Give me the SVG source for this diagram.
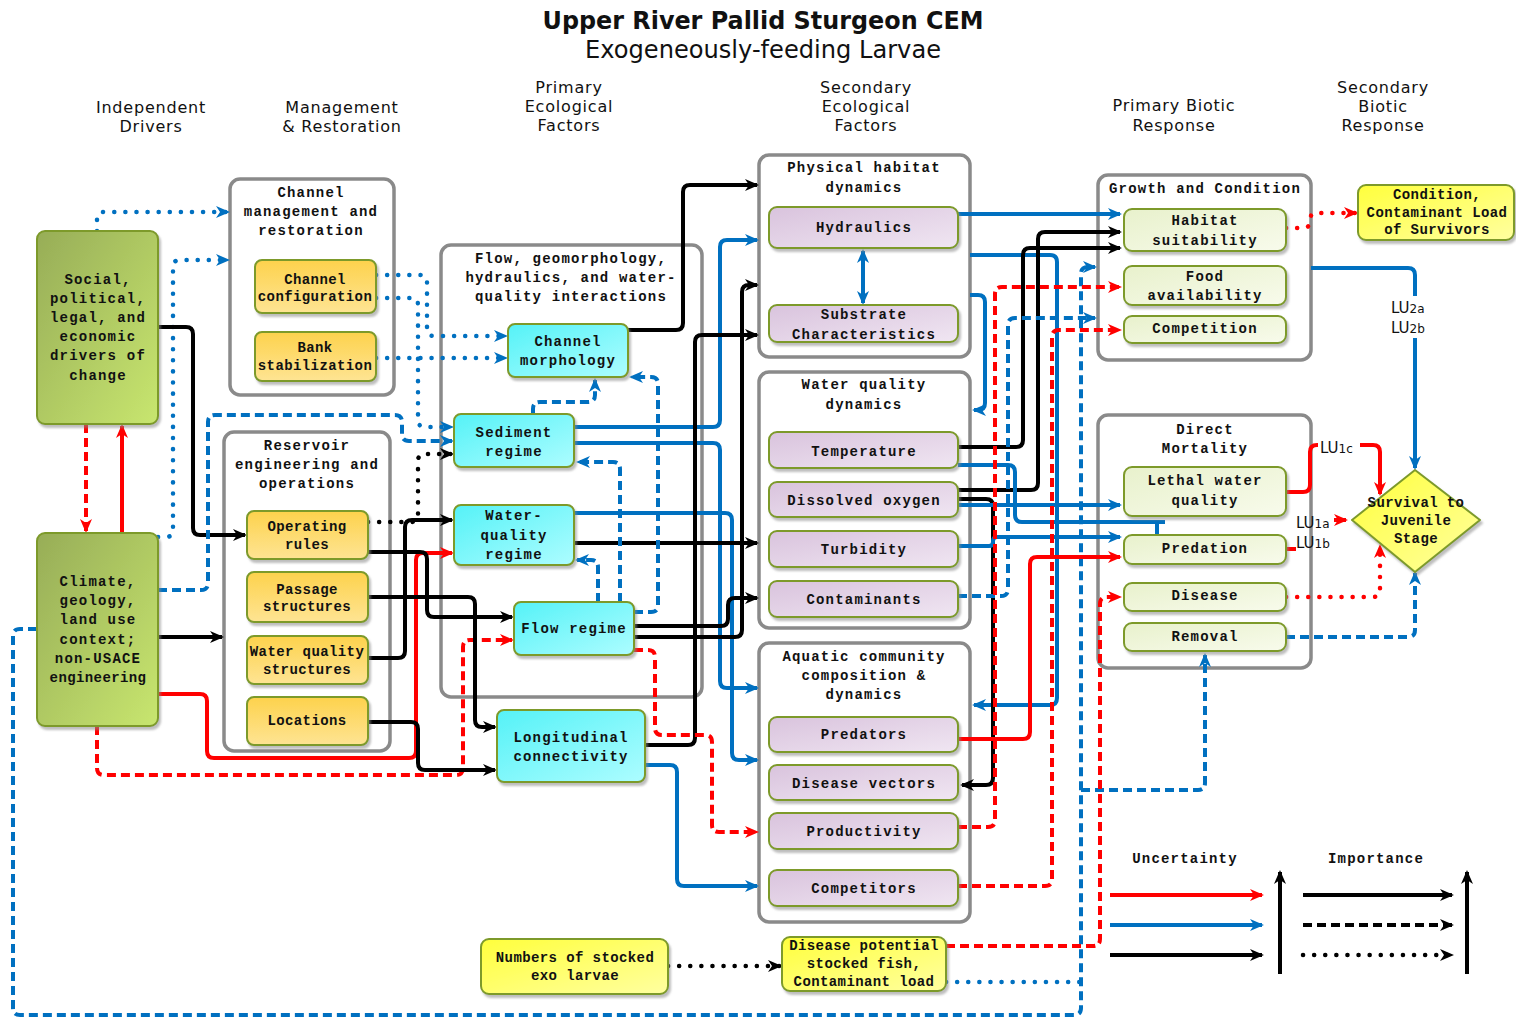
<svg xmlns="http://www.w3.org/2000/svg" width="1516" height="1019" viewBox="0 0 1516 1019">
<defs>
  <linearGradient id="gGreen" x1="0" y1="0" x2="1" y2="1">
    <stop offset="0" stop-color="#97ad57"/><stop offset="1" stop-color="#c8e66f"/>
  </linearGradient>
  <linearGradient id="gOrange" x1="0" y1="0" x2="0" y2="1">
    <stop offset="0" stop-color="#fdd24c"/><stop offset="1" stop-color="#fee493"/>
  </linearGradient>
  <linearGradient id="gCyan" x1="0" y1="0" x2="1" y2="1">
    <stop offset="0" stop-color="#55f2f7"/><stop offset="1" stop-color="#adfdff"/>
  </linearGradient>
  <linearGradient id="gLav" x1="0" y1="0" x2="1" y2="1">
    <stop offset="0" stop-color="#d9c3dd"/><stop offset="1" stop-color="#f0e6f2"/>
  </linearGradient>
  <linearGradient id="gLgreen" x1="0" y1="0" x2="1" y2="1">
    <stop offset="0" stop-color="#e8f1cc"/><stop offset="1" stop-color="#f8fbec"/>
  </linearGradient>
  <linearGradient id="gYellow" x1="0" y1="0" x2="1" y2="1">
    <stop offset="0" stop-color="#ffff3c"/><stop offset="1" stop-color="#ffffa0"/>
  </linearGradient>
  <filter id="sh" x="-10%" y="-10%" width="130%" height="130%">
    <feDropShadow dx="2" dy="3" stdDeviation="0.8" flood-color="#888" flood-opacity="0.55"/>
  </filter>
  <marker id="ak" viewBox="0 0 14 12" refX="12" refY="6" markerWidth="14" markerHeight="12" markerUnits="userSpaceOnUse" orient="auto-start-reverse"><path d="M0,0 L14,6 L0,12 L4,6 z" fill="#000"/></marker>
  <marker id="ab" viewBox="0 0 14 12" refX="12" refY="6" markerWidth="14" markerHeight="12" markerUnits="userSpaceOnUse" orient="auto-start-reverse"><path d="M0,0 L14,6 L0,12 L4,6 z" fill="#0070c0"/></marker>
  <marker id="ar" viewBox="0 0 14 12" refX="12" refY="6" markerWidth="14" markerHeight="12" markerUnits="userSpaceOnUse" orient="auto-start-reverse"><path d="M0,0 L14,6 L0,12 L4,6 z" fill="#ff0000"/></marker>
  <style>
    .hd { font-family: "DejaVu Sans", Verdana, sans-serif; font-size: 16px; letter-spacing: 0.8px; text-anchor: middle; fill: #111; }
    .nt { font-family: "Liberation Mono", "Courier New", monospace; font-weight: bold; font-size: 14px; letter-spacing: 1.2px; text-anchor: middle; fill: #111; }
    .tight { letter-spacing: 0.4px; }
    .lu { font-family: "DejaVu Sans", Verdana, sans-serif; font-size: 15px; fill: #111; }
    .grp { fill: #fff; stroke: #8a8a8a; stroke-width: 3.5; }
    .box { stroke: #7d9a2b; stroke-width: 2; filter: url(#sh); }
    .green { fill: url(#gGreen); }
    .orange { fill: url(#gOrange); }
    .cyan { fill: url(#gCyan); }
    .lav { fill: url(#gLav); }
    .lgreen { fill: url(#gLgreen); }
    .yellow { fill: url(#gYellow); }
    #connectors path, .leg path { fill: none; stroke-width: 4; stroke-linejoin: round; }
    .k { stroke: #000; marker-end: url(#ak); }
    .b { stroke: #0070c0; marker-end: url(#ab); }
    .r { stroke: #ff0000; marker-end: url(#ar); }
    .n { marker-end: none !important; }
    .d { stroke-dasharray: 9 5; }
    .o { stroke-dasharray: 0.1 11; stroke-linecap: round; stroke-width: 4.5 !important; }
  </style>
</defs>

<rect width="1516" height="1019" fill="#fff"/>

<!-- titles and column headings -->
<g id="titles">
  <text x="763" y="29" font-family="DejaVu Sans, Verdana, sans-serif" font-weight="bold" font-size="24" text-anchor="middle" textLength="441" lengthAdjust="spacingAndGlyphs" fill="#111">Upper River Pallid Sturgeon CEM</text>
  <text x="763" y="58" font-family="DejaVu Sans, Verdana, sans-serif" font-size="24" text-anchor="middle" textLength="356" lengthAdjust="spacingAndGlyphs" fill="#111">Exogeneously-feeding Larvae</text>
  <text class="hd" x="151" y="113">Independent</text>
  <text class="hd" x="151" y="132">Drivers</text>
  <text class="hd" x="342" y="113">Management</text>
  <text class="hd" x="342" y="132">&amp; Restoration</text>
  <text class="hd" x="569" y="93">Primary</text>
  <text class="hd" x="569" y="112">Ecological</text>
  <text class="hd" x="569" y="131">Factors</text>
  <text class="hd" x="866" y="93">Secondary</text>
  <text class="hd" x="866" y="112">Ecological</text>
  <text class="hd" x="866" y="131">Factors</text>
  <text class="hd" x="1174" y="111">Primary Biotic</text>
  <text class="hd" x="1174" y="131">Response</text>
  <text class="hd" x="1383" y="93">Secondary</text>
  <text class="hd" x="1383" y="112">Biotic</text>
  <text class="hd" x="1383" y="131">Response</text>
</g>

<!-- group frames -->
<g id="grp-channel-mgmt">
  <rect class="grp" x="230" y="179" width="164" height="216" rx="10"/>
  <text class="nt" x="311" y="197">Channel</text>
  <text class="nt" x="311" y="216">management and</text>
  <text class="nt" x="311" y="235">restoration</text>
</g>
<g id="grp-reservoir">
  <rect class="grp" x="224" y="432" width="166" height="319" rx="10"/>
  <text class="nt" x="307" y="450">Reservoir</text>
  <text class="nt" x="307" y="469">engineering and</text>
  <text class="nt" x="307" y="488">operations</text>
</g>
<g id="grp-flow">
  <rect class="grp" x="441" y="245" width="261" height="452" rx="10"/>
  <text class="nt" x="571" y="263">Flow, geomorphology,</text>
  <text class="nt" x="571" y="282">hydraulics, and water-</text>
  <text class="nt" x="571" y="301">quality interactions</text>
</g>
<g id="grp-physical">
  <rect class="grp" x="759" y="155" width="211" height="202" rx="10"/>
  <text class="nt" x="864" y="172">Physical habitat</text>
  <text class="nt" x="864" y="192">dynamics</text>
</g>
<g id="grp-waterquality">
  <rect class="grp" x="759" y="372" width="211" height="256" rx="10"/>
  <text class="nt" x="864" y="389">Water quality</text>
  <text class="nt" x="864" y="409">dynamics</text>
</g>
<g id="grp-aquatic">
  <rect class="grp" x="759" y="643" width="211" height="279" rx="10"/>
  <text class="nt" x="864" y="661">Aquatic community</text>
  <text class="nt" x="864" y="680">composition &amp;</text>
  <text class="nt" x="864" y="699">dynamics</text>
</g>
<g id="grp-growth">
  <rect class="grp" x="1098" y="175" width="213" height="185" rx="10"/>
  <text class="nt" x="1205" y="193">Growth and Condition</text>
</g>
<g id="grp-mortality">
  <rect class="grp" x="1098" y="415" width="213" height="253" rx="10"/>
  <text class="nt" x="1205" y="434">Direct</text>
  <text class="nt" x="1205" y="453">Mortality</text>
</g>

<!-- connectors (corners rounded with r=7) -->
<g id="connectors">
  <!-- independent drivers -->
  <path class="b o" d="M97,231 V219 Q97,212 104,212 H228"/>
  <path class="b o" d="M158,537 H166 Q173,537 173,530 V267 Q173,260 180,260 H228"/>
  <path class="k" d="M158,327 H186 Q193,327 193,334 V528 Q193,535 200,535 H245"/>
  <path class="r d" d="M86,424 V531"/>
  <path class="r" d="M122,533 V426"/>
  <path class="b d" d="M158,590 H201 Q208,590 208,583 V422 Q208,415 215,415 H395 Q402,415 402,422 V434 Q402,441 409,441 H452"/>
  <path class="k" d="M158,637 H222"/>
  <path class="r" d="M158,694 H200 Q207,694 207,701 V751 Q207,758 214,758 H409 Q416,758 416,751 V560 Q416,553 423,553 H452"/>
  <path class="r d" d="M97,726 V768 Q97,775 104,775 H456 Q463,775 463,768 V647 Q463,640 470,640 H512"/>
  <path class="b d" d="M37,629 H20 Q13,629 13,636 V1008 Q13,1015 20,1015 H1074 Q1081,1015 1081,1008 V274 Q1081,267 1088,267 H1095"/>
  <path class="b d" d="M1081,790 H1198 Q1205,790 1205,783 V655"/>
  <path class="b o n" d="M946,982 H1081"/>
  <path class="r d" d="M946,946 H1093 Q1100,946 1100,939 V604 Q1100,597 1107,597 H1120"/>
  <path class="k o" d="M668,966 H780"/>

  <!-- management and restoration -->
  <path class="b o" d="M376,275 H420 Q427,275 427,282 V329 Q427,336 434,336 H506"/>
  <path class="b o" d="M376,298 H411 Q418,298 418,305 V420 Q418,427 425,427 H452"/>
  <path class="b o" d="M376,358 H506"/>
  <path class="k o" d="M368,522 H411 Q418,522 418,515 V461 Q418,454 425,454 H452"/>
  <path class="k" d="M368,552 H420 Q427,552 427,559 V610 Q427,617 434,617 H512"/>
  <path class="k" d="M368,597 H468 Q475,597 475,604 V720 Q475,727 482,727 H495"/>
  <path class="k" d="M368,658 H398 Q405,658 405,651 V527 Q405,520 412,520 H452"/>
  <path class="k" d="M368,722 H411 Q418,722 418,729 V763 Q418,770 425,770 H495"/>

  <!-- primary ecological factors -->
  <path class="k" d="M628,330 H676 Q683,330 683,323 V192 Q683,185 690,185 H757"/>
  <path class="b" d="M574,427 H713 Q720,427 720,420 V247 Q720,240 727,240 H757"/>
  <path class="b" d="M574,443 H713 Q720,443 720,450 V681 Q720,688 727,688 H757"/>
  <path class="b" d="M574,513 H725 Q732,513 732,520 V753 Q732,760 739,760 H757"/>
  <path class="k" d="M574,543 H757"/>
  <path class="k" d="M634,626 H721 Q728,626 728,619 V605 Q728,598 735,598 H757"/>
  <path class="k" d="M634,637 H735 Q742,637 742,630 V292 Q742,285 749,285 H757"/>
  <path class="k" d="M645,745 H688 Q695,745 695,738 V342 Q695,335 702,335 H757"/>
  <path class="b" d="M645,765 H670 Q677,765 677,772 V879 Q677,886 684,886 H757"/>
  <path class="r d" d="M634,650 H648 Q655,650 655,657 V728 Q655,735 662,735 H705 Q712,735 712,742 V825 Q712,832 719,832 H757"/>
  <path class="b d" d="M620,602 V469 Q620,462 613,462 H578"/>
  <path class="b d" d="M634,612 H651 Q658,612 658,605 V384 Q658,377 651,377 H631"/>
  <path class="b d" d="M598,602 V567 Q598,560 591,560 H577"/>
  <path class="b d" d="M533,414 V409 Q533,402 540,402 H588 Q595,402 595,395 V380"/>

  <!-- secondary ecological factors -->
  <path class="b" d="M863,251 V303" marker-start="url(#ab)"/>
  <path class="b" d="M958,214 H1120"/>
  <path class="b" d="M970,255 H1050 Q1057,255 1057,262 V698 Q1057,705 1050,705 H974"/>
  <path class="b" d="M970,295 H978 Q985,295 985,302 V403 Q985,410 978,410 H974"/>
  <path class="k" d="M958,447 H1016 Q1023,447 1023,440 V255 Q1023,248 1030,248 H1120"/>
  <path class="k" d="M958,490 H1031 Q1038,490 1038,483 V239 Q1038,232 1045,232 H1120"/>
  <path class="k" d="M958,499 H986 Q993,499 993,506 V778 Q993,785 986,785 H962"/>
  <path class="b" d="M958,505 H1120"/>
  <path class="b n" d="M958,465 H1008 Q1015,465 1015,472 V515 Q1015,522 1022,522 H1165 M1157,522 V537"/>
  <path class="b" d="M958,546 H989 Q993,546 993,542 V541 Q993,537 997,537 H1120"/>
  <path class="b d" d="M958,596 H1001 Q1008,596 1008,589 V325 Q1008,318 1015,318 H1095"/>
  <path class="r" d="M958,739 H1023 Q1030,739 1030,732 V564 Q1030,557 1037,557 H1120"/>
  <path class="r d" d="M958,827 H988 Q995,827 995,820 V294 Q995,287 1002,287 H1120"/>
  <path class="r d" d="M958,886 H1045 Q1052,886 1052,879 V337 Q1052,330 1059,330 H1120"/>

  <!-- biotic responses -->
  <path class="r o" d="M1286,228 H1303 Q1310,228 1310,221 V220 Q1310,213 1317,213 H1356"/>
  <path class="b" d="M1311,268 H1408 Q1415,268 1415,275 V468"/>
  <path class="r" d="M1286,492 H1303 Q1310,492 1310,485 V452 Q1310,445 1317,445 H1373 Q1380,445 1380,452 V494"/>
  <path class="r n" d="M1286,549 H1296"/>
  <path class="r" d="M1334,520 H1346"/>
  <path class="r o" d="M1286,597 H1373 Q1380,597 1380,590 V546"/>
  <path class="b d" d="M1286,637 H1408 Q1415,637 1415,630 V573"/>
</g>

<!-- labels on the survival links -->
<g id="lu-labels">
  <rect x="1388" y="296" width="44" height="42" fill="#fff"/>
  <text class="lu" x="1391" y="313">LU<tspan font-size="12">2a</tspan></text>
  <text class="lu" x="1391" y="333">LU<tspan font-size="12">2b</tspan></text>
  <rect x="1318" y="437" width="42" height="18" fill="#fff"/>
  <text class="lu" x="1320" y="453">LU<tspan font-size="12">1c</tspan></text>
  <text class="lu" x="1296" y="528">LU<tspan font-size="12">1a</tspan></text>
  <text class="lu" x="1296" y="548">LU<tspan font-size="12">1b</tspan></text>
</g>

<!-- independent drivers -->
<g id="social">
  <rect class="box green" x="37" y="231" width="121" height="193" rx="8"/>
  <text class="nt" x="98" y="284">Social,</text>
  <text class="nt" x="98" y="303">political,</text>
  <text class="nt" x="98" y="322">legal, and</text>
  <text class="nt" x="98" y="341">economic</text>
  <text class="nt" x="98" y="360">drivers of</text>
  <text class="nt" x="98" y="380">change</text>
</g>
<g id="climate">
  <rect class="box green" x="37" y="533" width="121" height="193" rx="8"/>
  <text class="nt" x="98" y="586">Climate,</text>
  <text class="nt" x="98" y="605">geology,</text>
  <text class="nt" x="98" y="624">land use</text>
  <text class="nt" x="98" y="644">context;</text>
  <text class="nt" x="98" y="663">non-USACE</text>
  <text class="nt tight" x="98" y="682">engineering</text>
</g>

<!-- management and restoration -->
<g id="channel-configuration">
  <rect class="box orange" x="255" y="260" width="121" height="53" rx="7"/>
  <text class="nt tight" x="315" y="284">Channel</text>
  <text class="nt tight" x="315" y="301">configuration</text>
</g>
<g id="bank-stabilization">
  <rect class="box orange" x="255" y="332" width="121" height="49" rx="7"/>
  <text class="nt tight" x="315" y="352">Bank</text>
  <text class="nt tight" x="315" y="370">stabilization</text>
</g>
<g id="operating-rules">
  <rect class="box orange" x="247" y="511" width="121" height="48" rx="7"/>
  <text class="nt tight" x="307" y="531">Operating</text>
  <text class="nt tight" x="307" y="549">rules</text>
</g>
<g id="passage-structures">
  <rect class="box orange" x="247" y="572" width="121" height="50" rx="7"/>
  <text class="nt tight" x="307" y="594">Passage</text>
  <text class="nt tight" x="307" y="611">structures</text>
</g>
<g id="wq-structures">
  <rect class="box orange" x="247" y="636" width="121" height="48" rx="7"/>
  <text class="nt tight" x="307" y="656">Water quality</text>
  <text class="nt tight" x="307" y="674">structures</text>
</g>
<g id="locations">
  <rect class="box orange" x="247" y="697" width="121" height="48" rx="7"/>
  <text class="nt tight" x="307" y="725">Locations</text>
</g>

<!-- primary ecological factors -->
<g id="channel-morphology">
  <rect class="box cyan" x="508" y="324" width="120" height="53" rx="7"/>
  <text class="nt" x="568" y="346">Channel</text>
  <text class="nt" x="568" y="365">morphology</text>
</g>
<g id="sediment-regime">
  <rect class="box cyan" x="454" y="414" width="120" height="53" rx="7"/>
  <text class="nt" x="514" y="437">Sediment</text>
  <text class="nt" x="514" y="456">regime</text>
</g>
<g id="wq-regime">
  <rect class="box cyan" x="454" y="505" width="120" height="60" rx="7"/>
  <text class="nt" x="514" y="520">Water-</text>
  <text class="nt" x="514" y="540">quality</text>
  <text class="nt" x="514" y="559">regime</text>
</g>
<g id="flow-regime">
  <rect class="box cyan" x="514" y="602" width="120" height="53" rx="7"/>
  <text class="nt" x="574" y="633">Flow regime</text>
</g>
<g id="longitudinal-connectivity">
  <rect class="box cyan" x="497" y="710" width="148" height="72" rx="7"/>
  <text class="nt" x="571" y="742">Longitudinal</text>
  <text class="nt" x="571" y="761">connectivity</text>
</g>

<!-- secondary ecological factors -->
<g id="hydraulics">
  <rect class="box lav" x="769" y="207" width="189" height="41" rx="8"/>
  <text class="nt" x="864" y="232">Hydraulics</text>
</g>
<g id="substrate">
  <rect class="box lav" x="769" y="305" width="189" height="37" rx="8"/>
  <text class="nt" x="864" y="319">Substrate</text>
  <text class="nt" x="864" y="339">Characteristics</text>
</g>
<g id="temperature">
  <rect class="box lav" x="769" y="432" width="189" height="36" rx="8"/>
  <text class="nt" x="864" y="456">Temperature</text>
</g>
<g id="dissolved-oxygen">
  <rect class="box lav" x="769" y="482" width="189" height="35" rx="8"/>
  <text class="nt" x="864" y="505">Dissolved oxygen</text>
</g>
<g id="turbidity">
  <rect class="box lav" x="769" y="531" width="189" height="36" rx="8"/>
  <text class="nt" x="864" y="554">Turbidity</text>
</g>
<g id="contaminants">
  <rect class="box lav" x="769" y="581" width="189" height="36" rx="8"/>
  <text class="nt" x="864" y="604">Contaminants</text>
</g>
<g id="predators">
  <rect class="box lav" x="769" y="717" width="189" height="35" rx="8"/>
  <text class="nt" x="864" y="739">Predators</text>
</g>
<g id="disease-vectors">
  <rect class="box lav" x="769" y="765" width="189" height="35" rx="8"/>
  <text class="nt" x="864" y="788">Disease vectors</text>
</g>
<g id="productivity">
  <rect class="box lav" x="769" y="813" width="189" height="36" rx="8"/>
  <text class="nt" x="864" y="836">Productivity</text>
</g>
<g id="competitors">
  <rect class="box lav" x="769" y="870" width="189" height="36" rx="8"/>
  <text class="nt" x="864" y="893">Competitors</text>
</g>

<!-- primary biotic response -->
<g id="habitat-suitability">
  <rect class="box lgreen" x="1124" y="209" width="162" height="42" rx="8"/>
  <text class="nt" x="1205" y="225">Habitat</text>
  <text class="nt" x="1205" y="245">suitability</text>
</g>
<g id="food-availability">
  <rect class="box lgreen" x="1124" y="266" width="162" height="39" rx="8"/>
  <text class="nt" x="1205" y="281">Food</text>
  <text class="nt" x="1205" y="300">availability</text>
</g>
<g id="competition">
  <rect class="box lgreen" x="1124" y="316" width="162" height="27" rx="8"/>
  <text class="nt" x="1205" y="333">Competition</text>
</g>
<g id="lethal-wq">
  <rect class="box lgreen" x="1124" y="467" width="162" height="49" rx="8"/>
  <text class="nt" x="1205" y="485">Lethal water</text>
  <text class="nt" x="1205" y="505">quality</text>
</g>
<g id="predation">
  <rect class="box lgreen" x="1124" y="535" width="162" height="29" rx="8"/>
  <text class="nt" x="1205" y="553">Predation</text>
</g>
<g id="disease">
  <rect class="box lgreen" x="1124" y="583" width="162" height="28" rx="8"/>
  <text class="nt" x="1205" y="600">Disease</text>
</g>
<g id="removal">
  <rect class="box lgreen" x="1124" y="623" width="162" height="28" rx="8"/>
  <text class="nt" x="1205" y="641">Removal</text>
</g>

<!-- secondary biotic response -->
<g id="condition-load">
  <rect class="box yellow" x="1358" y="185" width="156" height="55" rx="8"/>
  <text class="nt tight" x="1437" y="199">Condition,</text>
  <text class="nt tight" x="1437" y="217">Contaminant Load</text>
  <text class="nt tight" x="1437" y="234">of Survivors</text>
</g>
<g id="survival">
  <polygon class="box yellow" points="1415,470 1480,520 1415,572 1352,520" stroke-linejoin="round"/>
  <text class="nt tight" x="1416" y="507">Survival to</text>
  <text class="nt tight" x="1416" y="525">Juvenile</text>
  <text class="nt tight" x="1416" y="543">Stage</text>
</g>

<!-- stocking -->
<g id="stocked-larvae">
  <rect class="box yellow" x="481" y="939" width="187" height="55" rx="8"/>
  <text class="nt tight" x="575" y="962">Numbers of stocked</text>
  <text class="nt tight" x="575" y="980">exo larvae</text>
</g>
<g id="disease-potential">
  <rect class="box yellow" x="782" y="937" width="164" height="54" rx="8"/>
  <text class="nt tight" x="864" y="950">Disease potential</text>
  <text class="nt tight" x="864" y="968">stocked fish,</text>
  <text class="nt tight" x="864" y="986">Contaminant load</text>
</g>

<!-- legend -->
<g id="legend" class="leg">
  <text class="nt" x="1185" y="863">Uncertainty</text>
  <text class="nt" x="1376" y="863">Importance</text>
  <path class="r" d="M1110,895 H1262"/>
  <path class="b" d="M1110,925 H1262"/>
  <path class="k" d="M1110,955 H1262"/>
  <path class="k" d="M1280,974 V872"/>
  <path class="k" d="M1303,895 H1452"/>
  <path class="k d" d="M1303,925 H1452"/>
  <path class="k o" d="M1303,955 H1452"/>
  <path class="k" d="M1467,974 V872"/>
</g>
</svg>
